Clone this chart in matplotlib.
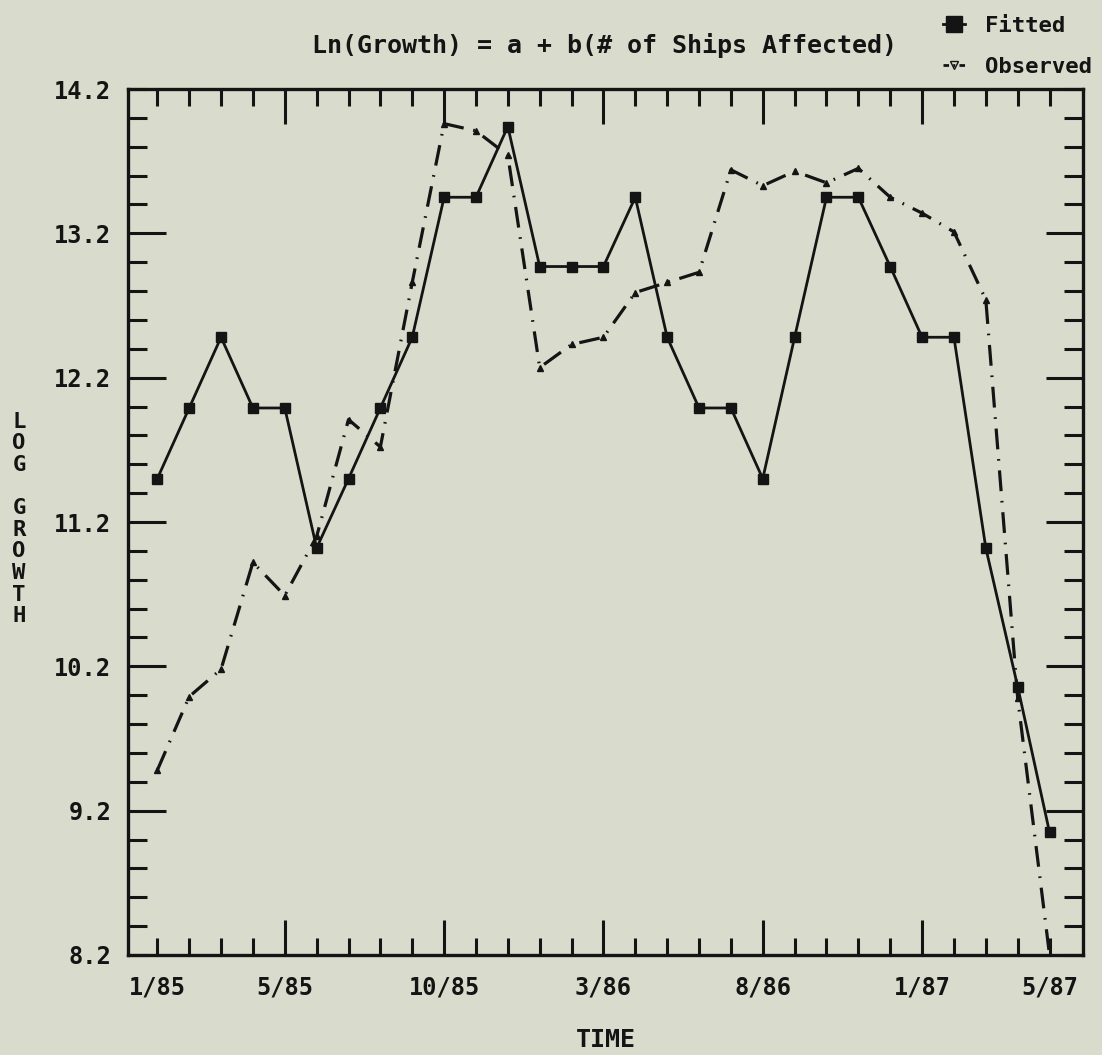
import numpy as np
import matplotlib
matplotlib.use("Agg")
import matplotlib.pyplot as plt
from matplotlib.ticker import FixedLocator, FuncFormatter
from matplotlib.lines import Line2D

# ---------------- data ----------------
month_index = list(range(29))            # 1/85 ... 5/87, monthly
tick_months = [0, 4, 9, 14, 19, 24, 28]
tick_labels = ["1/85", "5/85", "10/85", "3/86", "8/86", "1/87", "5/87"]

fitted = [11.50, 11.99, 12.48, 11.99, 11.99, 11.02, 11.50, 11.99, 12.48, 13.45,
          13.45, 13.94, 12.97, 12.97, 12.97, 13.45, 12.48, 11.99, 11.99, 11.50,
          12.48, 13.45, 13.45, 12.97, 12.48, 12.48, 11.02, 10.06, 9.05]
observed = [9.48, 9.99, 10.18, 10.92, 10.69, 11.10, 11.91, 11.72, 12.86, 13.96,
            13.91, 13.74, 12.27, 12.43, 12.48, 12.79, 12.86, 12.93, 13.64, 13.53,
            13.63, 13.55, 13.65, 13.45, 13.34, 13.21, 12.74, 9.98, 8.20]

y_major = [9.2, 10.2, 11.2, 12.2, 13.2]
y_end_labels = [8.2, 14.2]

title = "Ln(Growth) = a + b(# of Ships Affected)"
xlabel = "TIME"
ylabel = "LOG GROWTH"

# ---------------- style ----------------
BG = "#d9dccc"
INK = "#141414"
plt.rcParams["font.family"] = ["DejaVu Sans Mono"]
plt.rcParams["font.weight"] = "bold"
plt.rcParams["axes.labelweight"] = "bold"
plt.rcParams["lines.scale_dashes"] = False

W, H = 1102, 1055
fig = plt.figure(figsize=(W / 100, H / 100), dpi=100, facecolor=BG)
L, R, T, B = 128, 1083, 89, 955
ax = fig.add_axes([L / W, 1 - B / H, (R - L) / W, (B - T) / H], facecolor=BG)

ax.plot(month_index, observed, color=INK, lw=2.3, dashes=(15, 7, 1.2, 7),
        marker="^", ms=4, mfc=INK, mec=INK, zorder=3, clip_on=True)
ax.plot(month_index, fitted, color=INK, lw=2.0, marker="s", ms=7,
        mfc=INK, mec=INK, zorder=4)

ax.set_xlim(-0.92, 29.05)
ax.set_ylim(8.2, 14.2)

# x ticks: long ticks at inner labelled months, short elsewhere
x_major = [m for m in tick_months if m not in (tick_months[0], tick_months[-1])]
x_minor = [m for m in month_index if m not in x_major]
lab = dict(zip(tick_months, tick_labels))
ax.xaxis.set_major_locator(FixedLocator(x_major))
ax.xaxis.set_minor_locator(FixedLocator(x_minor))
ax.xaxis.set_major_formatter(FuncFormatter(lambda v, p: lab.get(int(round(v)), "")))
ax.xaxis.set_minor_formatter(FuncFormatter(lambda v, p: lab.get(int(round(v)), "")))

y_all = [round(8.2 + 0.2 * i, 1) for i in range(31)]
y_minor = [v for v in y_all if v not in y_major]
ax.yaxis.set_major_locator(FixedLocator(y_major))
ax.yaxis.set_minor_locator(FixedLocator(y_minor))
fmt_y = FuncFormatter(lambda v, p: f"{v:.1f}")
fmt_y_minor = FuncFormatter(lambda v, p: f"{v:.1f}" if any(abs(v - e) < 1e-6 for e in y_end_labels) else "")
ax.yaxis.set_major_formatter(fmt_y)
ax.yaxis.set_minor_formatter(fmt_y_minor)

ax.tick_params(which="both", direction="in", top=True, right=True,
               color=INK, labelcolor=INK, width=2.2, labelsize=17)
ax.tick_params(axis="x", which="major", length=25, pad=15)
ax.tick_params(axis="x", which="minor", length=12, pad=15)
ax.tick_params(axis="y", which="major", length=27, pad=12)
ax.tick_params(axis="y", which="minor", length=14, pad=12)

for s in ax.spines.values():
    s.set_linewidth(2.4)
    s.set_color(INK)

ax.set_xlabel(xlabel, fontsize=18, color=INK, fontweight="bold")
ax.xaxis.set_label_coords(0.5, (B - 1028) / (B - T))
ax.set_ylabel("\n".join(ylabel), rotation=0, fontsize=16, color=INK,
              fontweight="bold", ha="center", va="center", linespacing=1.1)
ax.yaxis.set_label_coords((19 - L) / (R - L), (B - 519) / (B - T))

fig.text((304 + 906) / 2 / W, 1 - 46 / H, title, ha="center", va="center",
         fontsize=18, color=INK, fontweight="bold")

handles = [Line2D([], [], color=INK, lw=2.0, marker="s", ms=11),
           Line2D([], [], color=INK, lw=2.0, dashes=(4, 3, 1.5, 3), marker="v", ms=6,
                  mfc="none", mec=INK)]
fig.legend(handles, ["Fitted", "Observed"], loc="upper left",
           bbox_to_anchor=(932 / W, 1 - 5 / H), frameon=False, fontsize=16,
           handlelength=1.0, handletextpad=0.9, labelspacing=0.95, borderpad=0,
           labelcolor=INK)

fig.savefig("out.png", dpi=100, facecolor=BG)
